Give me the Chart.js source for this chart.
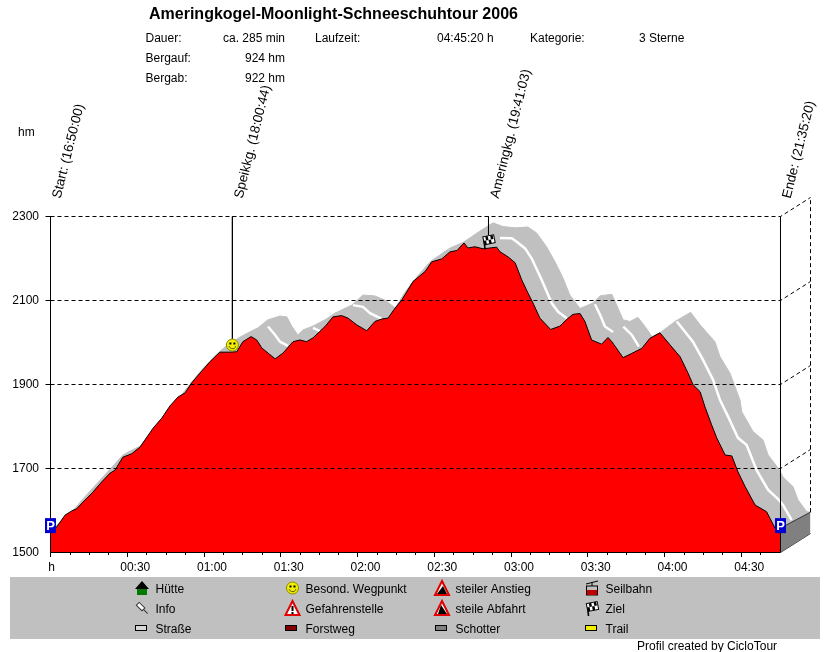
<!DOCTYPE html>
<html>
<head>
<meta charset="utf-8">
<title>Ameringkogel-Moonlight-Schneeschuhtour 2006</title>
<script src="https://cdn.jsdelivr.net/npm/chart.js@4/dist/chart.umd.min.js"></script>
<style>
  body { margin: 0; background: #fff; }
  canvas { display: block; }
</style>
</head>
<body>
<canvas id="myChart" width="830" height="652"></canvas>
<script>
// minutes since start / metres
const profileMin = [0,2.1,5.7,8.3,10.2,12.7,16.6,20,23.3,25.2,28.3,31.7,35,40.1,43.5,46.7,49.8,52.6,55.2,58.4,62.3,65,66.3,70.2,72.8,75.2,78.4,80.6,82.6,85,87.8,90.9,94.8,97.5,100.1,102.6,107.3,110.4,113.8,116.3,119.7,123.6,126.8,129.5,131.9,134.7,137.3,141.7,146.4,149,152.9,156.2,158.9,161.6,163.2,165.9,169.1,174.4,175.7,178.8,181.6,184.2,186.6,188.6,191.3,195.5,199.1,201.8,204.2,207,208.9,211.5,215.4,217.9,219.4,223.8,227.2,231.1,234.3,238.2,242.2,246.1,249.2,251.2,253.9,255.8,258.4,260.4,263.7,266.3,268.7,271.5,275.4,279.9,283.2,285.33];
const profileElev = [1551,1558,1589,1599,1604,1620,1644,1668,1689,1696,1727,1735,1751,1796,1820,1849,1870,1880,1904,1927,1954,1970,1977,1977,1978,2002,2014,2006,1987,1975,1961,1975,2002,2006,2002,2011,2038,2061,2064,2058,2042,2028,2050,2056,2058,2082,2101,2145,2169,2192,2199,2216,2219,2237,2225,2228,2223,2227,2216,2204,2190,2149,2118,2094,2058,2031,2039,2055,2067,2069,2050,2006,1996,2012,2002,1964,1974,1986,2010,2023,1994,1966,1927,1899,1883,1847,1804,1773,1732,1730,1692,1657,1613,1597,1558,1549];

// back edge of the 3D band
const backMin = [0,10,12.3,28.3,31.9,35,58.4,65,68.2,74.1,77.2,81.1,85,89.7,92.4,94.4,96.7,98.7,102.2,107.3,111.2,117.8,122.1,126.8,130.7,134.7,138.6,142.1,148.7,156.2,161.2,164.6,168.5,173,176.9,181.6,186.6,190,193.9,197.2,200.3,203,207,212,214.8,219.4,221.3,223.8,226.5,229.6,232.4,235.1,238.2,244.1,250.2,253.9,259.7,261.7,265.6,269.5,270.2,274.6,278.5,280.5,284.4,286.3,290.2,292.2,295.6,297.06];
const backElev = [1551,1608,1625,1732,1744,1753,1930,1973,1989,2013,2023,2035,2054,2063,2061,2038,2018,2030,2038,2054,2070,2089,2113,2111,2101,2082,2120,2149,2194,2225,2238,2252,2268,2285,2276,2273,2275,2261,2228,2192,2154,2113,2081,2094,2111,2115,2089,2054,2050,2060,2038,2014,2023,2050,2072,2042,2002,1966,1927,1863,1835,1788,1768,1732,1701,1680,1657,1625,1597,1596];

// white stripe on the band, null = gap
const stripeMin = [85,87.8,89.7,92.8,null,102.6,105.3,null,118.2,122.1,124.9,129.5,null,175.7,180.3,182.2,185.5,188.1,192,195.9,198.4,201.8,null,212.8,214.8,216.7,219.9,null,223.9,227.2,230,null,244.8,251.1,255.1,259,261.7,264.9,268.7,272.1,276,280.5,284.4,286.3,289.7];
const stripeElev = [2038,2018,2002,1992,null,2035,2027,null,2089,2085,2070,2056,null,2249,2248,2240,2224,2200,2149,2094,2073,2058,null,2091,2066,2038,2025,null,2038,2018,1990,null,2050,2002,1958,1911,1863,1823,1773,1756,1696,1649,1627,1613,1577];

const endMin = 285.33;
const depthMin = 297.06;
const depthLift = 45.24;
const topElev = 2345.24;

const gridLevels = [2300, 2100, 1900, 1700];
const yTicks = [1500, 1700, 1900, 2100, 2300];
const xTicks = [0, 30, 60, 90, 120, 150, 180, 210, 240, 270];
const xTickLabels = ['h', '00:30', '01:00', '01:30', '02:00', '02:30', '03:00', '03:30', '04:00', '04:30'];
const xMinorTicks = [7.5,15,22.5,37.5,45,52.5,67.5,75,82.5,97.5,105,112.5,127.5,135,142.5,157.5,165,172.5,187.5,195,202.5,217.5,225,232.5,247.5,255,262.5,277.5];

const waypointMin = [0, 71.1, 171.2, 285.33];
const waypointLabels = ['Start: (16:50:00)', 'Speikkg. (18:00:44)', 'Ameringkg. (19:41:03)', 'Ende: (21:35:20)'];

const parkMin = [0, 285.33];
const parkElev = [1564, 1564];
const smileyMin = 71.1;
const smileyElev = 1994;
const flagMin = 171.2;
const flagElev = 2241;

const legendCol1 = ['Hütte', 'Info', 'Straße'];
const legendCol2 = ['Besond. Wegpunkt', 'Gefahrenstelle', 'Forstweg'];
const legendCol3 = ['steiler Anstieg', 'steile Abfahrt', 'Schotter'];
const legendCol4 = ['Seilbahn', 'Ziel', 'Trail'];

const FONT = '12px "Liberation Sans", Arial, sans-serif';

function pts(xs, ys) {
  return xs.map((x, i) => ({ x: x, y: ys[i] }));
}

function line(data, extra) {
  return Object.assign({
    data: data,
    borderColor: '#000',
    borderWidth: 1,
    pointRadius: 0,
    tension: 0,
    fill: false,
    clip: false
  }, extra);
}

function text(ctx, str, x, y, align) {
  ctx.textAlign = align || 'left';
  ctx.fillText(str, x, y);
}

function drawPark(ctx, x, y) {
  ctx.fillStyle = '#0000d0';
  ctx.fillRect(x - 5.5, y - 7.5, 11, 15);
  ctx.fillStyle = '#fff';
  ctx.font = 'bold 13px "Liberation Sans", Arial, sans-serif';
  ctx.textAlign = 'center';
  ctx.fillText('P', x, y + 4);
}

function drawSmiley(ctx, x, y) {
  ctx.fillStyle = '#f4f000';
  ctx.strokeStyle = '#8a8a00';
  ctx.lineWidth = 1;
  ctx.beginPath();
  ctx.arc(x, y, 6, 0, Math.PI * 2);
  ctx.fill();
  ctx.stroke();
  ctx.fillStyle = '#000';
  ctx.fillRect(x - 3, y - 2.5, 2, 2);
  ctx.fillRect(x + 1, y - 2.5, 2, 2);
  ctx.strokeStyle = '#5a5a00';
  ctx.beginPath();
  ctx.arc(x, y, 3.6, 0.3, Math.PI - 0.3);
  ctx.stroke();
}

function drawFlag(ctx, x, y) {
  ctx.strokeStyle = '#000';
  ctx.lineWidth = 1.6;
  ctx.beginPath();
  ctx.moveTo(x - 3.5, y + 8);
  ctx.lineTo(x - 4.5, y - 3);
  ctx.stroke();
  ctx.lineWidth = 1;
  ctx.save();
  ctx.translate(x + 0.5, y - 1.5);
  ctx.rotate(-0.2);
  ctx.fillStyle = '#fff';
  ctx.fillRect(-5.5, -4, 11, 8);
  ctx.strokeRect(-5.5, -4, 11, 8);
  ctx.fillStyle = '#000';
  ctx.fillRect(-3, -4, 2.5, 4);
  ctx.fillRect(2, -4, 2.5, 4);
  ctx.fillRect(-0.5, 0, 2.5, 4);
  ctx.fillRect(-5.5, 0, 2.5, 4);
  ctx.restore();
}

function drawWarn(ctx, x, y, kind) {
  ctx.beginPath();
  ctx.moveTo(x, y - 7);
  ctx.lineTo(x + 7, y + 7);
  ctx.lineTo(x - 7, y + 7);
  ctx.closePath();
  ctx.fillStyle = '#fff';
  ctx.fill();
  ctx.strokeStyle = '#e00000';
  ctx.lineWidth = 2;
  ctx.stroke();
  ctx.fillStyle = '#000';
  ctx.beginPath();
  if (kind === 'mark') {
    ctx.fillRect(x - 1, y - 2, 2, 5);
    ctx.fillRect(x - 1, y + 4, 2, 2);
  } else if (kind === 'up') {
    ctx.moveTo(x - 5, y + 6);
    ctx.lineTo(x + 1, y - 2);
    ctx.lineTo(x + 5, y + 6);
    ctx.fill();
  } else {
    ctx.moveTo(x - 4, y + 6);
    ctx.lineTo(x - 1, y - 3);
    ctx.lineTo(x + 5, y + 6);
    ctx.fill();
  }
}

function drawSwatch(ctx, x, y, color) {
  ctx.fillStyle = color;
  ctx.strokeStyle = '#000';
  ctx.lineWidth = 1;
  ctx.fillRect(x - 5.5, y - 2.5, 11, 5);
  ctx.strokeRect(x - 5.5, y - 2.5, 11, 5);
}

function drawHouse(ctx, x, y) {
  ctx.fillStyle = '#007a00';
  ctx.fillRect(x - 5, y + 1, 10, 6);
  ctx.fillStyle = '#000';
  ctx.beginPath();
  ctx.moveTo(x, y - 7);
  ctx.lineTo(x + 7, y + 1);
  ctx.lineTo(x - 7, y + 1);
  ctx.fill();
}

function drawPin(ctx, x, y) {
  ctx.save();
  ctx.translate(x, y);
  ctx.rotate(-Math.PI / 4);
  ctx.fillStyle = '#fff';
  ctx.strokeStyle = '#333';
  ctx.lineWidth = 1;
  ctx.fillRect(-2, -6, 4, 8);
  ctx.strokeRect(-2, -6, 4, 8);
  ctx.beginPath();
  ctx.moveTo(0, 2);
  ctx.lineTo(0, 8);
  ctx.stroke();
  ctx.restore();
}

function drawCable(ctx, x, y) {
  ctx.strokeStyle = '#000';
  ctx.lineWidth = 1;
  ctx.beginPath();
  ctx.moveTo(x - 6, y - 4);
  ctx.lineTo(x + 6, y - 7);
  ctx.moveTo(x, y - 6);
  ctx.lineTo(x, y - 2);
  ctx.stroke();
  ctx.strokeRect(x - 5.5, y - 2, 11, 9);
  ctx.fillStyle = '#c00000';
  ctx.fillRect(x - 5, y + 2, 10, 5);
}

const decor = {
  id: 'decor',
  afterDraw(chart) {
    const ctx = chart.ctx;
    const xs = chart.scales.x;
    const ys = chart.scales.y;
    ctx.save();
    ctx.fillStyle = '#000';

    // minor ticks under the x axis
    ctx.strokeStyle = '#000';
    ctx.lineWidth = 1;
    xMinorTicks.forEach(m => {
      const px = Math.round(xs.getPixelForValue(m)) + 0.5;
      ctx.beginPath();
      ctx.moveTo(px, ys.bottom);
      ctx.lineTo(px, ys.bottom + 2.5);
      ctx.stroke();
    });

    // heading and info block
    ctx.font = 'bold 16px "Liberation Sans", Arial, sans-serif';
    text(ctx, 'Ameringkogel-Moonlight-Schneeschuhtour 2006', 149, 19);
    ctx.font = FONT;
    text(ctx, 'Dauer:', 145.5, 42);
    text(ctx, 'Bergauf:', 145.5, 62);
    text(ctx, 'Bergab:', 145.5, 82);
    text(ctx, 'ca. 285 min', 285, 42, 'right');
    text(ctx, '924 hm', 285, 62, 'right');
    text(ctx, '922 hm', 285, 82, 'right');
    text(ctx, 'Laufzeit:', 315, 42);
    text(ctx, '04:45:20 h', 437, 42);
    text(ctx, 'Kategorie:', 530, 42);
    text(ctx, '3 Sterne', 639, 42);
    text(ctx, 'hm', 18, 136);
    text(ctx, xTickLabels[0], 51.5, 571, 'center');
    text(ctx, 'Profil created by CicloTour', 637, 650);

    // waypoint labels
    ctx.font = '13.4px "Liberation Sans", Arial, sans-serif';
    waypointLabels.forEach((label, i) => {
      ctx.save();
      ctx.translate(xs.getPixelForValue(waypointMin[i]) + 10, 199);
      ctx.rotate(-76 * Math.PI / 180);
      text(ctx, label, 0, 0);
      ctx.restore();
    });

    // markers on the profile
    parkMin.forEach((m, i) => drawPark(ctx, xs.getPixelForValue(m), ys.getPixelForValue(parkElev[i])));
    drawSmiley(ctx, xs.getPixelForValue(smileyMin), ys.getPixelForValue(smileyElev));
    drawFlag(ctx, xs.getPixelForValue(flagMin), ys.getPixelForValue(flagElev));

    // legend panel
    ctx.fillStyle = '#c0c0c0';
    ctx.fillRect(10, 577, 810, 62);
    const rows = [588, 608, 628];
    drawHouse(ctx, 142, rows[0]);
    drawPin(ctx, 142, rows[1]);
    drawSwatch(ctx, 141, rows[2], '#d8d8d8');
    drawSmiley(ctx, 292.5, rows[0]);
    drawWarn(ctx, 292.5, rows[1], 'mark');
    drawSwatch(ctx, 291, rows[2], '#800000');
    drawWarn(ctx, 442, rows[0], 'up');
    drawWarn(ctx, 442, rows[1], 'down');
    drawSwatch(ctx, 441, rows[2], '#808080');
    drawCable(ctx, 592, rows[0]);
    drawFlag(ctx, 592, rows[1]);
    drawSwatch(ctx, 591, rows[2], '#f0f000');
    ctx.fillStyle = '#000';
    ctx.font = FONT;
    [legendCol1, legendCol2, legendCol3, legendCol4].forEach((col, c) => {
      col.forEach((label, r) => text(ctx, label, 155.5 + c * 150, rows[r] + 4.5));
    });
    ctx.restore();
  }
};

const ctx = document.getElementById('myChart');
const grid = gridLevels.map(level => line(
  [{ x: 0, y: level }, { x: endMin, y: level }, { x: depthMin, y: level + depthLift }],
  { borderDash: [4, 3] }
));

const datasets = [
  ...grid,
  line([{ x: depthMin, y: backElev[backElev.length - 1] }, { x: depthMin, y: topElev }], { borderDash: [4, 3] }),
  line([{ x: 0, y: 2300 }, { x: 0, y: 1500 }, { x: endMin, y: 1500 }, { x: endMin, y: 2300 }]),
  line([{ x: waypointMin[1], y: 2300 }, { x: waypointMin[1], y: smileyElev }]),
  line([{ x: waypointMin[2], y: 2300 }, { x: waypointMin[2], y: 2256 }]),
  line(pts(profileMin, profileElev), { backgroundColor: '#ff0000', fill: { value: 1500 } })
];
const faceIndex = datasets.length;
datasets.push(
  line([{ x: endMin, y: 1558 }, { x: depthMin, y: 1596 }], { borderColor: '#333', backgroundColor: '#808080', fill: { target: faceIndex + 1 } }),
  line([{ x: endMin, y: 1500 }, { x: depthMin, y: 1545.24 }], { borderColor: '#222' }),
  line(pts(stripeMin, stripeElev), { borderColor: '#fff', borderWidth: 2.5, spanGaps: false }),
  line(pts(backMin, backElev), { borderColor: '#c0c0c0', backgroundColor: '#c0c0c0', fill: { target: faceIndex + 4 } }),
  // floor of the band, only the fill above uses it
  line([{ x: 0, y: 1500 }, { x: endMin, y: 1500 }, { x: depthMin, y: 1545.24 }], { borderColor: 'transparent' })
);

new Chart(ctx, {
  type: 'line',
  data: { datasets: datasets },
  options: {
    responsive: false,
    animation: false,
    events: [],
    layout: { padding: { top: 197.5, right: 19.5, left: 0, bottom: 0 } },
    plugins: { legend: { display: false }, title: { display: false }, tooltip: { enabled: false } },
    scales: {
      x: {
        type: 'linear',
        min: 0,
        max: depthMin,
        afterBuildTicks(scale) { scale.ticks = xTicks.map(v => ({ value: v })); },
        afterFit(scale) { scale.height = 99.5; },
        border: { display: false },
        grid: { drawOnChartArea: false, tickLength: 4.5, tickColor: '#000' },
        ticks: {
          color: '#000',
          font: { family: '"Liberation Sans", Arial, sans-serif', size: 12 },
          maxRotation: 0,
          autoSkip: false,
          padding: 3.5,
          labelOffset: 8,
          callback(v, i) { return i === 0 ? '' : xTickLabels[i]; }
        }
      },
      y: {
        min: 1500,
        max: topElev,
        afterBuildTicks(scale) { scale.ticks = yTicks.map(v => ({ value: v })); },
        afterFit(scale) { scale.width = 50.5; },
        border: { display: false },
        grid: { drawOnChartArea: false, tickLength: 5, tickColor: c => c.tick && c.tick.value === 1500 ? 'transparent' : '#000' },
        ticks: {
          color: '#000',
          font: { family: '"Liberation Sans", Arial, sans-serif', size: 12 },
          padding: 6.5,
          callback(v) { return String(v); }
        }
      }
    }
  },
  plugins: [decor]
});
</script>
</body>
</html>
